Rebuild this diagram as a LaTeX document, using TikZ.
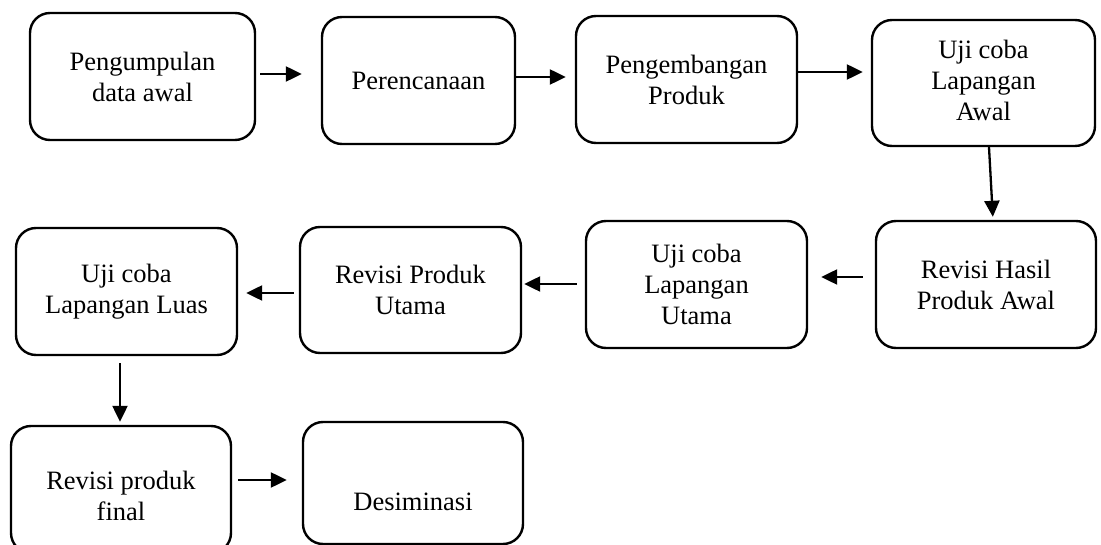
\documentclass[tikz,border=0pt]{standalone}
\usepackage{fontspec}
\setmainfont{Liberation Serif}
\usetikzlibrary{arrows.meta}
\tikzset{
  stepbox/.style={draw=black, line width=2.4pt, rounded corners=20pt, align=center,
    inner sep=0pt, font=\fontsize{26.5}{31}\selectfont},
  steptext/.style={align=center, inner sep=0pt, font=\fontsize{26.5}{31}\selectfont},
  arr/.style={line width=2.3pt, -{Triangle[length=16pt,width=15pt]}}
}
\begin{document}
\begin{tikzpicture}[x=1pt,y=-1pt]
\useasboundingbox (0,0) rectangle (1101,545);
\clip (0,0) rectangle (1101,545);
\node[stepbox, minimum width=225pt, minimum height=127pt] (b1) at (142.5,76.5) {Pengumpulan\\data awal};
\node[stepbox, minimum width=193pt, minimum height=127pt] (b2) at (418.5,80.5) {Perencanaan};
\node[stepbox, minimum width=221pt, minimum height=127pt] (b3) at (686.5,79.5) {Pengembangan\\Produk};
\node[stepbox, minimum width=223pt, minimum height=126pt] (b4) at (983.5,83) {};
\node[steptext] (t4) at (983.5,80) {Uji coba\\Lapangan\\Awal};
\node[stepbox, minimum width=220pt, minimum height=127pt] (b5) at (986,284.5) {Revisi Hasil\\Produk Awal};
\node[stepbox, minimum width=221pt, minimum height=127pt] (b6) at (696.5,284.5) {Uji coba\\Lapangan\\Utama};
\node[stepbox, minimum width=221pt, minimum height=126pt] (b7) at (410.5,290) {Revisi Produk\\Utama};
\node[stepbox, minimum width=221pt, minimum height=127pt] (b8) at (126.5,291.5) {Uji coba\\Lapangan Luas};
\node[stepbox, minimum width=220pt, minimum height=127pt] (b9) at (121,489.5) {};
\node[steptext] (t9) at (121,496) {Revisi produk\\final};
\node[stepbox, minimum width=220pt, minimum height=122pt] (b10) at (413,483) {};
\node[steptext] (t10) at (413,502) {Desiminasi};
\draw[arr, shorten <=4pt, shorten >=19pt] ([yshift=2.5pt]b1.east) -- ([yshift=2.5pt]b1.east -| b2.west);
\draw[arr, shorten <=0pt, shorten >=9pt] ([yshift=3.5pt]b2.east) -- ([yshift=3.5pt]b2.east -| b3.west);
\draw[arr, shorten <=0pt, shorten >=8pt] ([yshift=7.5pt]b3.east) -- ([yshift=7.5pt]b3.east -| b4.west);
\draw[arr, shorten <=0pt, shorten >=3pt] ([xshift=5.5pt]b4.south) -- ([xshift=7pt]b5.north);
\draw[arr, shorten <=12pt, shorten >=13pt] ([yshift=7.5pt]b5.west) -- ([yshift=7.5pt]b5.west -| b6.east);
\draw[arr, shorten <=8pt, shorten >=2pt] ([yshift=0.5pt]b6.west) -- ([yshift=0.5pt]b6.west -| b7.east);
\draw[arr, shorten <=5pt, shorten >=8pt] ([yshift=-3pt]b7.west) -- ([yshift=-3pt]b7.west -| b8.east);
\draw[arr, shorten <=7pt, shorten >=3pt] ([xshift=-6.5pt]b8.south) -- ([xshift=-6.5pt]b8.south |- b9.north);
\draw[arr, shorten <=6pt, shorten >=15pt] ([yshift=9.5pt]b9.east) -- ([yshift=9.5pt]b9.east -| b10.west);
\end{tikzpicture}
\end{document}
